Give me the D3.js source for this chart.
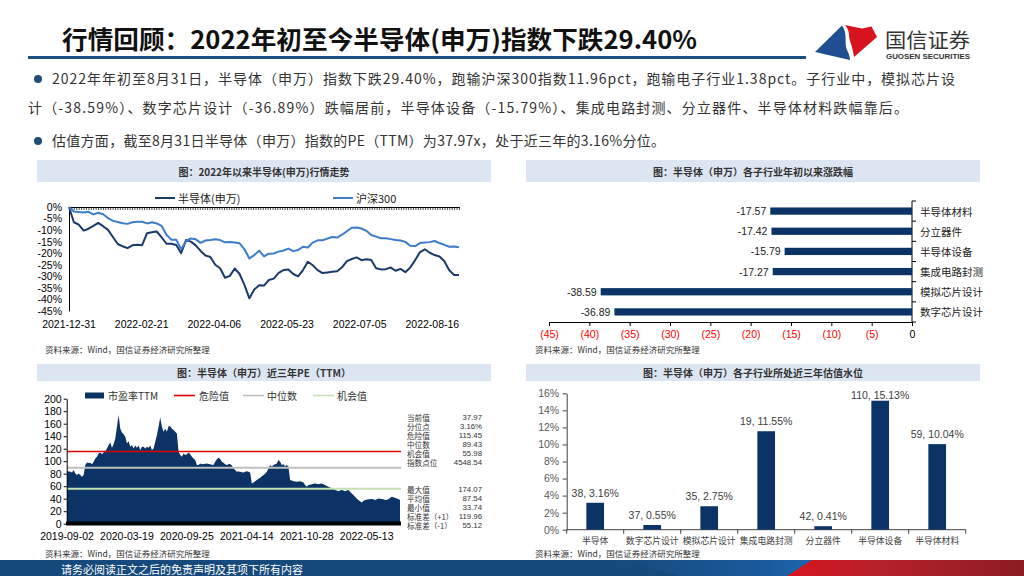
<!DOCTYPE html>
<html><head><meta charset="utf-8">
<script src="https://cdn.jsdelivr.net/npm/d3@7"></script>
<style>body{margin:0;background:#fff;}svg{display:block;}</style>
</head><body><svg id="c" width="1024" height="576"></svg>
<script>
// ---------------- DATA ----------------
const titleText = "行情回顾：2022年初至今半导体(申万)指数下跌29.40%";
const bulletLines = [
  "2022年年初至8月31日，半导体（申万）指数下跌29.40%，跑输沪深300指数11.96pct，跑输电子行业1.38pct。子行业中，模拟芯片设",
  "计（-38.59%）、数字芯片设计（-36.89%）跌幅居前，半导体设备（-15.79%）、集成电路封测、分立器件、半导体材料跌幅靠后。",
  "估值方面，截至8月31日半导体（申万）指数的PE（TTM）为37.97x，处于近三年的3.16%分位。"
];
const panelTitles = ["图：2022年以来半导体(申万)行情走势","图：半导体（申万）各子行业年初以来涨跌幅","图：半导体（申万）近三年PE（TTM）","图：半导体（申万）各子行业所处近三年估值水位"];
const sourceText = "资料来源：Wind，国信证券经济研究所整理";
const footerText = "请务必阅读正文之后的免责声明及其项下所有内容";

// Chart 1: cumulative return since 2021-12-31 (%), evenly sampled over 162 trading days
const tradingDays = 162;
const trendSeriesNames = ["半导体(申万)","沪深300"];
const semiVals = [0,-6.6,-7.6,-10.2,-9.4,-8.2,-6.9,-8.3,-9.9,-13,-16,-17,-17.8,-16.6,-16.3,-16.5,-11.4,-10.9,-10.6,-13.1,-15.9,-15.9,-16.4,-20,-14.3,-15,-16.6,-19,-21,-21.6,-25,-26.5,-30.6,-29.8,-26.6,-29,-33.8,-39.5,-35.7,-33.9,-34,-31.6,-31,-28.5,-27.3,-27,-29,-30,-27.3,-23.7,-25.2,-27.3,-28.6,-28.3,-28,-27.8,-26.1,-23.4,-22.5,-21.8,-23,-22.6,-22.9,-26.5,-27,-26.9,-26.2,-27.6,-26.8,-28.2,-26.2,-23,-19.5,-18.3,-19.8,-20.8,-21.4,-23.5,-27.4,-29.4,-29.4];
const hs300Vals = [0,-1.9,-2.2,-2.4,-2.1,-3.2,-2.5,-3.1,-4.8,-6,-6.5,-7,-7.3,-6.6,-6.4,-6.4,-7.1,-6.6,-7.1,-8.2,-12,-14.2,-14.2,-18.3,-14.8,-13.6,-14,-15.5,-14.5,-14.3,-14,-14.3,-15.3,-15.1,-15.4,-15.7,-18.3,-22.3,-20.8,-18.9,-21.4,-20.2,-20.1,-19.3,-18.8,-18,-19.1,-18.6,-17.2,-17.5,-15.4,-14.4,-14.4,-13.7,-13,-13.2,-12,-10.5,-9,-8.9,-9.3,-10.3,-12.1,-12.8,-13.5,-13.5,-13.9,-14.3,-14.5,-15.1,-16.8,-16.9,-15.6,-15.4,-15.2,-14.7,-15.6,-16.4,-17.2,-17.1,-17.4];
const trendTickLabels = ["2021-12-31","2022-02-21","2022-04-06","2022-05-23","2022-07-05","2022-08-16"];
const trendTickDays = [0,30,60,90,120,150];
const trendYTicks = [0,-5,-10,-15,-20,-25,-30,-35,-40,-45];

// Chart 2: sub-industry change since start of year
const subInds = ["半导体材料","分立器件","半导体设备","集成电路封测","模拟芯片设计","数字芯片设计"];
const subChg = [-17.57,-17.42,-15.79,-17.27,-38.59,-36.89];
const chgTicks = [-45,-40,-35,-30,-25,-20,-15,-10,-5,0];

// Chart 3: PE TTM over three years (evenly sampled)
const peLegend = ["市盈率TTM","危险值","中位数","机会值"];
const peVals = [83,84,83,82,86,80.5,78,80.5,78,75,78,94,98,97,97.6,95,99,104.5,107,112.5,114,111,114,116,120.5,126,130,121.6,127,136.5,155,174,152,146,143,139,128.5,132,123,126,120.5,125,121.6,125,118,123,123,120.5,123,121.6,125,118,120.5,131,142,155,170,155,147,152,147,156,156,152,150,147,144.5,115,110,107,112.5,110,111,114,111,107,104.5,102,94,94,96.5,95,95.5,96,96.5,95.5,95,94.5,94,99,103,105.6,103.5,99,97.6,95,94,95,95.5,93,88.5,86,83,83.5,83,82.5,82,83,84,83,82,64.5,66,68,70,72,73.6,76,78,80,83,88.5,94,91,94,95,96.5,102,99,94,95,92,94,91,70,69,68,67.5,67,67.5,68,67,66,62,59,62,62.5,63,64,64.5,64,63,64,64.5,63,62,60.5,59,58,56.5,55,54,53,52,53,54,53,52,53,54,51,48.5,46,43,40.5,38,36,34,36.5,38,38.5,39,39,39.5,39,38,39,40.5,40,39.5,39,38,38.5,39,41,43,42.5,41.6,40.5,39.5,38];
const peDanger = 115.45, peMedian = 89.43, peChance = 55.98;
const peTickLabels = ["2019-09-02","2020-03-19","2020-09-25","2021-04-14","2021-10-28","2022-05-13"];
const peTickIdx = [0,36,72,108,144,180];
const peYTicks = [0,20,40,60,80,100,120,140,160,180,200];
const statLabels1 = ["当前值","分位点","危险值","中位数","机会值","指数点位"];
const statValues1 = ["37.97","3.16%","115.45","89.43","55.98","4548.54"];
const statLabels2 = ["最大值","平均值","最小值","标准差（+1）","标准差（-1）"];
const statValues2 = ["174.07","87.54","33.74","119.96","55.12"];

// Chart 4: valuation percentile
const valCats = ["半导体","数字芯片设计","模拟芯片设计","集成电路封测","分立器件","半导体设备","半导体材料"];
const valPE = [38,37,35,19,42,110,59];
const valPct = [3.16,0.55,2.75,11.55,0.41,15.13,10.04];
const valYTicks = [0,2,4,6,8,10,12,14,16];

// ---------------- DRAW ----------------
const CJK = '"Noto Sans CJK SC","Noto Sans",sans-serif';
const NUM = '"Liberation Sans","Noto Sans CJK SC",sans-serif';
const NAVY = "#0b3366", DARK = "#1b3a6b", LIGHT = "#3d7cc9", RED = "#e00000";
const svg = d3.select("#c");

// Title
svg.append("text").attr("x",62).attr("y",49).attr("font-family",CJK).attr("font-weight","bold")
  .attr("font-size",25).attr("fill","#111").attr("textLength",635).attr("lengthAdjust","spacingAndGlyphs").text(titleText);
svg.append("rect").attr("x",28).attr("y",56).attr("width",778).attr("height",3).attr("fill","#1c4f80");

// Logo
svg.append("path").attr("d","M815,52 L842,25.5 C848,33 844,44 847,50 C849,54 850,57 850,60 Z").attr("fill","#1d4f91");
svg.append("path").attr("d","M845,25 L862,28.5 L871.5,26.5 L877,37 L854,57 C853,50 851.5,45 850,41 C848.5,36 850,30 845,25 Z").attr("fill","#d7141e");
svg.append("text").attr("x",885).attr("y",48).attr("font-family",CJK).attr("font-size",20).attr("fill","#333")
  .attr("textLength",85).attr("lengthAdjust","spacingAndGlyphs").text("国信证券");
svg.append("text").attr("x",886).attr("y",59).attr("font-family",NUM).attr("font-weight","bold").attr("font-size",8).attr("fill","#333")
  .attr("textLength",84).attr("lengthAdjust","spacingAndGlyphs").text("GUOSEN SECURITIES");

// Bullets
[[38,79],[38,141]].forEach(p=>svg.append("circle").attr("cx",p[0]).attr("cy",p[1]).attr("r",4).attr("fill","#1f4e79"));
const bulletPos = [[52,84,903],[28,113,880],[52,146,613]];
bulletLines.forEach((t,i)=>{
  svg.append("text").attr("x",bulletPos[i][0]).attr("y",bulletPos[i][1]).attr("font-family",CJK).attr("font-size",14)
    .attr("fill","#333").attr("textLength",bulletPos[i][2]).text(t);
});

// Panel headers
const headers = [[37,160,491,182],[526,160,980,182],[37,364,491,381],[526,364,980,381]];
headers.forEach((h,i)=>{
  svg.append("rect").attr("x",h[0]).attr("y",h[1]).attr("width",h[2]-h[0]).attr("height",h[3]-h[1]).attr("fill","#dce6f2");
  svg.append("text").attr("x",(h[0]+h[2])/2).attr("y",(h[1]+h[3])/2).attr("dominant-baseline","central").attr("text-anchor","middle")
    .attr("font-family",CJK).attr("font-weight","bold").attr("font-size",10).attr("fill","#333").text(panelTitles[i]);
});
[[45,349],[535,349],[45,553],[535,553]].forEach(p=>{
  svg.append("text").attr("x",p[0]).attr("y",p[1]).attr("dominant-baseline","central").attr("font-family",CJK)
    .attr("font-size",8.5).attr("fill","#333").text(sourceText);
});

// ---- Chart 1: trend lines
const xT = d3.scaleLinear().domain([0,tradingDays-1]).range([69,459]);
const yT = d3.scaleLinear().domain([-45,0]).range([311,207]);
const g1 = svg.append("g");
g1.append("g").attr("transform","translate(69,0)")
  .call(d3.axisLeft(yT).tickValues(trendYTicks).tickFormat(d=>d+"%").tickSize(0).tickPadding(7))
  .call(g=>{g.select(".domain").attr("stroke","#000");g.selectAll("text").attr("font-family",NUM).attr("font-size",10.5).attr("fill","#000");});
g1.append("g").attr("transform","translate(0,207)")
  .call(d3.axisBottom(xT).tickValues(d3.range(0,tradingDays)).tickFormat("").tickSize(3).tickSizeOuter(0))
  .call(g=>{g.select(".domain").attr("stroke","#000");g.selectAll(".tick line").attr("stroke","#000").attr("stroke-width",0.7);});
trendTickDays.forEach((d,i)=>{
  g1.append("text").attr("x",xT(d)).attr("y",324).attr("dominant-baseline","central").attr("text-anchor","middle")
    .attr("font-family",NUM).attr("font-size",10.5).attr("fill","#000").text(trendTickLabels[i]);
});
const lineT = arr => d3.line().x((d,i)=>xT(i*(tradingDays-1)/(arr.length-1))).y(d=>yT(d))(arr);
g1.append("path").attr("d",lineT(semiVals)).attr("fill","none").attr("stroke",DARK).attr("stroke-width",2).attr("stroke-linejoin","round");
g1.append("path").attr("d",lineT(hs300Vals)).attr("fill","none").attr("stroke",LIGHT).attr("stroke-width",2).attr("stroke-linejoin","round");
[[155,DARK],[333,LIGHT]].forEach((l,i)=>{
  g1.append("line").attr("x1",l[0]).attr("x2",l[0]+20).attr("y1",198).attr("y2",198).attr("stroke",l[1]).attr("stroke-width",2);
  g1.append("text").attr("x",l[0]+23).attr("y",198).attr("dominant-baseline","central").attr("font-family",CJK)
    .attr("font-size",11).attr("fill","#222").text(trendSeriesNames[i]);
});

// ---- Chart 2: horizontal bars
const xC = d3.scaleLinear().domain([-45,0]).range([549,912]);
const yC = d3.scaleBand().domain(subInds).range([201,322]).paddingInner(0.64).paddingOuter(0.32);
const g2 = svg.append("g");
g2.append("g").attr("transform","translate(0,322)")
  .call(d3.axisBottom(xC).tickValues(chgTicks).tickFormat(d=>d<0?"("+(-d)+")":"0").tickSize(4).tickPadding(5).tickSizeOuter(0))
  .call(g=>{g.select(".domain").attr("stroke","#000");g.selectAll(".tick line").attr("stroke","#000");
    g.selectAll("text").attr("font-family",NUM).attr("font-size",10.5).attr("fill",d=>d<0?"#ff0000":"#000");});
g2.append("line").attr("x1",912).attr("x2",912).attr("y1",201).attr("y2",322).attr("stroke","#000");
d3.range(0,subInds.length+1).forEach(k=>{
  const yy = 201 + k*yC.step();
  g2.append("line").attr("x1",912).attr("x2",916).attr("y1",yy).attr("y2",yy).attr("stroke","#000");
});
subInds.forEach((c,i)=>{
  const v = subChg[i];
  g2.append("rect").attr("x",xC(v)).attr("y",yC(c)).attr("width",xC(0)-xC(v)).attr("height",yC.bandwidth()).attr("fill",NAVY);
  g2.append("text").attr("x",xC(v)-4).attr("y",yC(c)+yC.bandwidth()/2).attr("dominant-baseline","central").attr("text-anchor","end")
    .attr("font-family",NUM).attr("font-size",10.5).attr("fill","#222").text(v.toFixed(2));
  g2.append("text").attr("x",920).attr("y",yC(c)+yC.bandwidth()/2).attr("dominant-baseline","central")
    .attr("font-family",CJK).attr("font-size",10.5).attr("fill","#222").text(c);
});

// ---- Chart 3: PE area
const xP = d3.scaleLinear().domain([0,peVals.length-1]).range([67,400]);
const yP = d3.scaleLinear().domain([0,200]).range([523.7,398.7]);
const g3 = svg.append("g");
g3.append("path").attr("d",d3.area().x((d,i)=>xP(i)).y0(yP(0)).y1(d=>yP(d))(peVals)).attr("fill",NAVY);
[[peDanger,RED,1.6],[peMedian,"#bfbfbf",2],[peChance,"#c5e0b4",2]].forEach(l=>{
  g3.append("line").attr("x1",67).attr("x2",401).attr("y1",yP(l[0])).attr("y2",yP(l[0])).attr("stroke",l[1]).attr("stroke-width",l[2]);
});
g3.append("rect").attr("x",66).attr("y",521.5).attr("width",335).attr("height",4).attr("fill","#000");
g3.append("g").attr("transform","translate(66.7,0)")
  .call(d3.axisLeft(yP).tickValues(peYTicks).tickSize(3).tickPadding(2).tickSizeOuter(0))
  .call(g=>{g.select(".domain").attr("stroke","#000");g.selectAll(".tick line").attr("stroke","#000");
    g.selectAll("text").attr("font-family",NUM).attr("font-size",10.5).attr("fill","#000");});
peTickIdx.forEach((d,i)=>{
  g3.append("text").attr("x",xP(d)).attr("y",536).attr("dominant-baseline","central").attr("text-anchor","middle")
    .attr("font-family",NUM).attr("font-size",10.5).attr("fill","#000").text(peTickLabels[i]);
});
// legend
g3.append("rect").attr("x",85).attr("y",392.5).attr("width",19).attr("height",6).attr("fill",NAVY);
[[174,RED],[243,"#bfbfbf"],[313,"#c5e0b4"]].forEach(l=>{
  g3.append("line").attr("x1",l[0]).attr("x2",l[0]+21).attr("y1",395.5).attr("y2",395.5).attr("stroke",l[1]).attr("stroke-width",1.6);
});
[[108,0],[199,1],[267,2],[337,3]].forEach(p=>{
  g3.append("text").attr("x",p[0]).attr("y",395.5).attr("dominant-baseline","central").attr("font-family",CJK)
    .attr("font-size",10).attr("fill","#333").text(peLegend[p[1]]);
});
// stats
const stat = (labels,values,y0)=>labels.forEach((l,i)=>{
  g3.append("text").attr("x",407).attr("y",y0+i*9).attr("dominant-baseline","central").attr("font-family",CJK)
    .attr("font-size",7.6).attr("fill","#333").text(l);
  g3.append("text").attr("x",482).attr("y",y0+i*9).attr("dominant-baseline","central").attr("text-anchor","end")
    .attr("font-family",NUM).attr("font-size",7.8).attr("fill","#333").text(values[i]);
});
stat(statLabels1,statValues1,417.7);
stat(statLabels2,statValues2,489.3);

// ---- Chart 4: valuation bars
const xV = d3.scaleBand().domain(valCats).range([566.7,965.7]).paddingInner(0.69).paddingOuter(0.345);
const yV = d3.scaleLinear().domain([0,16]).range([529.7,393.3]);
const g4 = svg.append("g");
g4.append("g").attr("transform","translate(566.7,0)")
  .call(d3.axisLeft(yV).tickValues(valYTicks).tickFormat(d=>d+"%").tickSize(4).tickPadding(3.5).tickSizeOuter(0))
  .call(g=>{g.select(".domain").attr("stroke","#404040");g.selectAll(".tick line").attr("stroke","#404040");
    g.selectAll("text").attr("font-family",NUM).attr("font-size",10.5).attr("fill","#595959");});
g4.append("line").attr("x1",566.7).attr("x2",965.7).attr("y1",529.7).attr("y2",529.7).attr("stroke","#404040");
d3.range(0,valCats.length+1).forEach(k=>{
  const xx = 566.7 + k*xV.step();
  g4.append("line").attr("x1",xx).attr("x2",xx).attr("y1",529.7).attr("y2",533.7).attr("stroke","#404040");
});
valCats.forEach((c,i)=>{
  const v = valPct[i], cx = xV(c)+xV.bandwidth()/2;
  g4.append("rect").attr("x",xV(c)).attr("y",yV(v)).attr("width",xV.bandwidth()).attr("height",yV(0)-yV(v)).attr("fill",NAVY);
  g4.append("text").attr("x",cx).attr("y",Math.max(394.5,yV(v)-10)).attr("dominant-baseline","central").attr("text-anchor","middle")
    .attr("font-family",NUM).attr("font-size",10.5).attr("fill","#404040").text(valPE[i]+", "+v.toFixed(2)+"%");
  g4.append("text").attr("x",cx).attr("y",540.5).attr("dominant-baseline","central").attr("text-anchor","middle")
    .attr("font-family",CJK).attr("font-size",8.8).attr("fill","#404040").text(c);
});

// ---- Footer
const defs = svg.append("defs");
const gr = defs.append("linearGradient").attr("id","rg");
gr.append("stop").attr("offset","0%").attr("stop-color","#d7141e");
gr.append("stop").attr("offset","40%").attr("stop-color","#b5212b");
gr.append("stop").attr("offset","100%").attr("stop-color","#8c1b22");
const gb = defs.append("linearGradient").attr("id","bg");
gb.append("stop").attr("offset","0%").attr("stop-color","#174a7c");
gb.append("stop").attr("offset","70%").attr("stop-color","#1a5b9c");
gb.append("stop").attr("offset","100%").attr("stop-color","#1f6ab8");
svg.append("rect").attr("x",0).attr("y",560).attr("width",1024).attr("height",16).attr("fill","#174a7c");
svg.append("polygon").attr("points","620,560 830,560 805,576 680,576").attr("fill","url(#bg)");
svg.append("polygon").attr("points","787,576 812,560 1024,560 1024,576").attr("fill","url(#rg)");
svg.append("text").attr("x",61).attr("y",568.5).attr("dominant-baseline","central").attr("font-family",CJK)
  .attr("font-size",11).attr("fill","#fff").text(footerText);
</script></body></html>
